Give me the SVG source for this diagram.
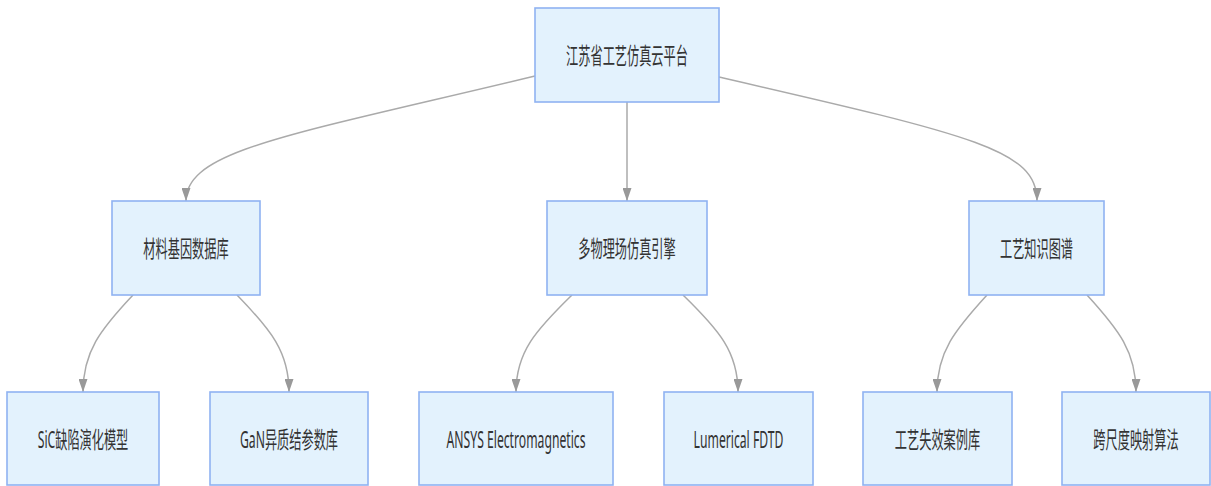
<svg xmlns="http://www.w3.org/2000/svg" width="1211" height="486" viewBox="0 0 1211 486">
  <style>
    .node rect { fill: #e3f2fd; stroke: #8fb2f2; stroke-width: 1.6; }
    .node text { font-family: "Noto Sans", "Noto Sans CJK SC", sans-serif; font-size: 23px; fill: #333333; text-anchor: middle; dominant-baseline: central; }
    .edge { fill: none; stroke: #aaaaaa; stroke-width: 1.5; }
  </style>
  <defs>
    <marker id="arrow" markerUnits="userSpaceOnUse" markerWidth="14" markerHeight="9" refX="13" refY="4.5" orient="auto">
      <path d="M0,0 L13,4.5 L0,9 z" fill="#999999"/>
    </marker>
  </defs>

  <rect width="1211" height="486" fill="#ffffff"/>

  <g id="connectors">
    <path class="edge" marker-end="url(#arrow)" d="M535,76 C290,135 186,150 186,201"/>
    <path class="edge" marker-end="url(#arrow)" d="M627,102 L627,201"/>
    <path class="edge" marker-end="url(#arrow)" d="M719,77 C975,136 1037,150 1037,201"/>

    <path class="edge" marker-end="url(#arrow)" d="M133,295 C100,330 83,352 83,392"/>
    <path class="edge" marker-end="url(#arrow)" d="M237,295 C271,330 289,352 289,392"/>
    <path class="edge" marker-end="url(#arrow)" d="M572,295 C536,330 516,352 516,392"/>
    <path class="edge" marker-end="url(#arrow)" d="M683,295 C719,330 738,352 738,392"/>
    <path class="edge" marker-end="url(#arrow)" d="M987,295 C955,330 937,352 937,392"/>
    <path class="edge" marker-end="url(#arrow)" d="M1087,295 C1119,330 1136,352 1136,392"/>
  </g>

  <g id="root" class="node">
    <rect x="535" y="8" width="184" height="94"/>
    <text transform="translate(627,55) scale(0.53,1)">江苏省工艺仿真云平台</text>
  </g>

  <g id="material-db" class="node">
    <rect x="112" y="201" width="148" height="94"/>
    <text transform="translate(186,248) scale(0.53,1)">材料基因数据库</text>
  </g>

  <g id="multiphysics" class="node">
    <rect x="547" y="201" width="160" height="94"/>
    <text transform="translate(627,248) scale(0.53,1)">多物理场仿真引擎</text>
  </g>

  <g id="process-kg" class="node">
    <rect x="969" y="201" width="135" height="94"/>
    <text transform="translate(1036.5,248) scale(0.53,1)">工艺知识图谱</text>
  </g>

  <g id="sic-model" class="node">
    <rect x="7" y="392" width="152" height="93"/>
    <text transform="translate(83,439) scale(0.53,1)">SiC缺陷演化模型</text>
  </g>

  <g id="gan-db" class="node">
    <rect x="210" y="392" width="158" height="93"/>
    <text transform="translate(289,439) scale(0.53,1)">GaN异质结参数库</text>
  </g>

  <g id="ansys" class="node">
    <rect x="419" y="392" width="194" height="93"/>
    <text transform="translate(516,439) scale(0.53,1)">ANSYS Electromagnetics</text>
  </g>

  <g id="lumerical" class="node">
    <rect x="664" y="392" width="149" height="93"/>
    <text transform="translate(738.5,439) scale(0.53,1)">Lumerical FDTD</text>
  </g>

  <g id="failure-cases" class="node">
    <rect x="863" y="392" width="149" height="93"/>
    <text transform="translate(937.5,439) scale(0.53,1)">工艺失效案例库</text>
  </g>

  <g id="cross-scale" class="node">
    <rect x="1062" y="392" width="148" height="93"/>
    <text transform="translate(1136,439) scale(0.53,1)">跨尺度映射算法</text>
  </g>
</svg>
